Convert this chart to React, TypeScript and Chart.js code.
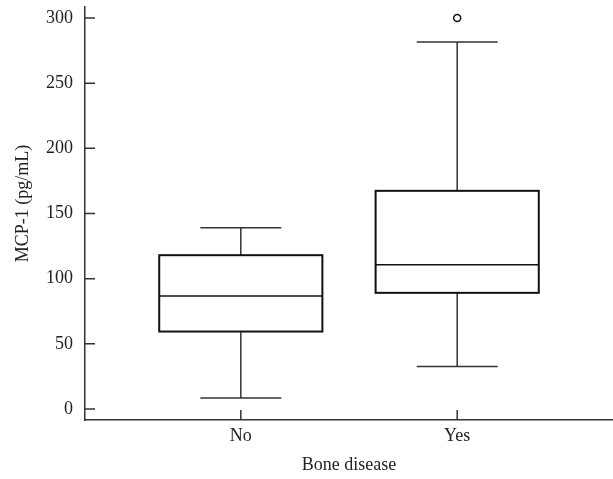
import React, { useEffect, useRef } from "react";
import { Chart, registerables } from "chart.js";

Chart.register(...registerables);

// ---- data ----
const categories = ["No", "Yes"];
const whiskerLow = [8.4, 32.5];
const q1 = [59.4, 89.1];
const median = [86.6, 110.6];
const q3 = [118.0, 167.4];
const whiskerHigh = [139.0, 281.6];
const outlierCategory = ["Yes"];
const outlierValue = [300];
const yTickValues = [0, 50, 100, 150, 200, 250, 300];
const xTitle = "Bone disease";
const yTitle = "MCP-1 (pg/mL)";

const FONT = "'Liberation Serif', 'Times New Roman', serif";
const INK = "#222";

const boxPlotPlugin = {
  id: "boxPlotPlugin",
  afterDatasetsDraw(chart: any) {
    const { ctx } = chart;
    const xs = chart.scales.x;
    const ys = chart.scales.y;
    const boxHalf = 0.377;
    const capHalf = 0.187;
    ctx.save();
    categories.forEach((_, i) => {
      const c = i + 1;
      const xc = xs.getPixelForValue(c);
      const xl = xs.getPixelForValue(c - boxHalf);
      const xr = xs.getPixelForValue(c + boxHalf);
      const cl = xs.getPixelForValue(c - capHalf);
      const cr = xs.getPixelForValue(c + capHalf);
      const yLo = ys.getPixelForValue(whiskerLow[i]);
      const yQ1 = ys.getPixelForValue(q1[i]);
      const yMed = ys.getPixelForValue(median[i]);
      const yQ3 = ys.getPixelForValue(q3[i]);
      const yHi = ys.getPixelForValue(whiskerHigh[i]);
      ctx.strokeStyle = "#333";
      ctx.lineWidth = 1.5;
      ctx.beginPath();
      ctx.moveTo(xc, yQ3);
      ctx.lineTo(xc, yHi);
      ctx.moveTo(cl, yHi);
      ctx.lineTo(cr, yHi);
      ctx.moveTo(xc, yQ1);
      ctx.lineTo(xc, yLo);
      ctx.moveTo(cl, yLo);
      ctx.lineTo(cr, yLo);
      ctx.stroke();
      ctx.fillStyle = "#fff";
      ctx.fillRect(xl, yQ3, xr - xl, yQ1 - yQ3);
      ctx.strokeStyle = "#111";
      ctx.lineWidth = 2;
      ctx.strokeRect(xl, yQ3, xr - xl, yQ1 - yQ3);
      ctx.lineWidth = 1.5;
      ctx.beginPath();
      ctx.moveTo(xl, yMed);
      ctx.lineTo(xr, yMed);
      ctx.stroke();
    });
    ctx.restore();
  },
  afterDraw(chart: any) {
    const { ctx, chartArea } = chart;
    const xs = chart.scales.x;
    const ys = chart.scales.y;
    ctx.save();
    ctx.strokeStyle = "#333";
    ctx.lineWidth = 1.5;
    ctx.beginPath();
    yTickValues.forEach((v) => {
      const y = ys.getPixelForValue(v);
      ctx.moveTo(chartArea.left, y);
      ctx.lineTo(chartArea.left + 10, y);
    });
    categories.forEach((_, i) => {
      const x = xs.getPixelForValue(i + 1);
      ctx.moveTo(x, chartArea.bottom);
      ctx.lineTo(x, chartArea.bottom - 10);
    });
    ctx.stroke();
    ctx.fillStyle = INK;
    ctx.font = `18px ${FONT}`;
    ctx.textAlign = "center";
    ctx.textBaseline = "middle";
    ctx.translate(23, (chartArea.top + chartArea.bottom) / 2 - 10);
    ctx.rotate(-Math.PI / 2);
    ctx.fillText(yTitle, 0, 0);
    ctx.restore();
  },
};

export default function App() {
  const ref = useRef<HTMLCanvasElement | null>(null);
  useEffect(() => {
    if (!ref.current) return;
    const chart = new Chart(ref.current, {
      type: "scatter",
      data: {
        datasets: [
          {
            label: "outliers",
            data: outlierValue.map((v, i) => ({
              x: categories.indexOf(outlierCategory[i]) + 1,
              y: v,
            })),
            pointStyle: "circle",
            pointRadius: 3.5,
            pointBorderWidth: 1.5,
            pointBackgroundColor: "#fff",
            pointBorderColor: "#111",
          },
        ],
      },
      plugins: [boxPlotPlugin],
      options: {
        responsive: false,
        animation: false,
        layout: { autoPadding: false, padding: { top: 7, right: 0, left: 0, bottom: 0 } },
        plugins: { legend: { display: false }, tooltip: { enabled: false } },
        scales: {
          x: {
            type: "linear",
            min: 0.28,
            max: 2.72,
            afterFit: (s: any) => {
              s.height = 59;
              s.paddingLeft = 0;
              s.paddingRight = 0;
            },
            afterBuildTicks: (s: any) => {
              s.ticks = categories.map((_, i) => ({ value: i + 1 }));
            },
            grid: { display: true, drawOnChartArea: false, drawTicks: false, color: "rgba(0,0,0,0)" },
            border: { display: true, color: "#333", width: 1.5 },
            ticks: {
              padding: 5,
              color: INK,
              font: { family: FONT, size: 18 },
              callback: (v: any) => categories[Number(v) - 1] ?? "",
            },
            title: {
              display: true,
              text: xTitle,
              color: INK,
              font: { family: FONT, size: 18 },
              padding: { top: 0, bottom: 3 },
            },
          },
          y: {
            type: "linear",
            min: -8.5,
            max: 308.5,
            afterFit: (s: any) => {
              s.width = 85;
              s.paddingTop = 0;
              s.paddingBottom = 0;
            },
            afterBuildTicks: (s: any) => {
              s.ticks = yTickValues.map((v) => ({ value: v }));
            },
            grid: { display: true, drawOnChartArea: false, drawTicks: false, color: "rgba(0,0,0,0)" },
            border: { display: true, color: "#333", width: 1.5 },
            ticks: {
              padding: 12,
              color: INK,
              font: { family: FONT, size: 18 },
            },
            title: { display: false },
          },
        },
      },
    });
    return () => chart.destroy();
  }, []);
  return (
    <div style={{ position: "fixed", left: 0, top: 0, width: 613, height: 479, background: "#fff" }}>
      <canvas ref={ref} width={613} height={479} style={{ display: "block" }} />
    </div>
  );
}
